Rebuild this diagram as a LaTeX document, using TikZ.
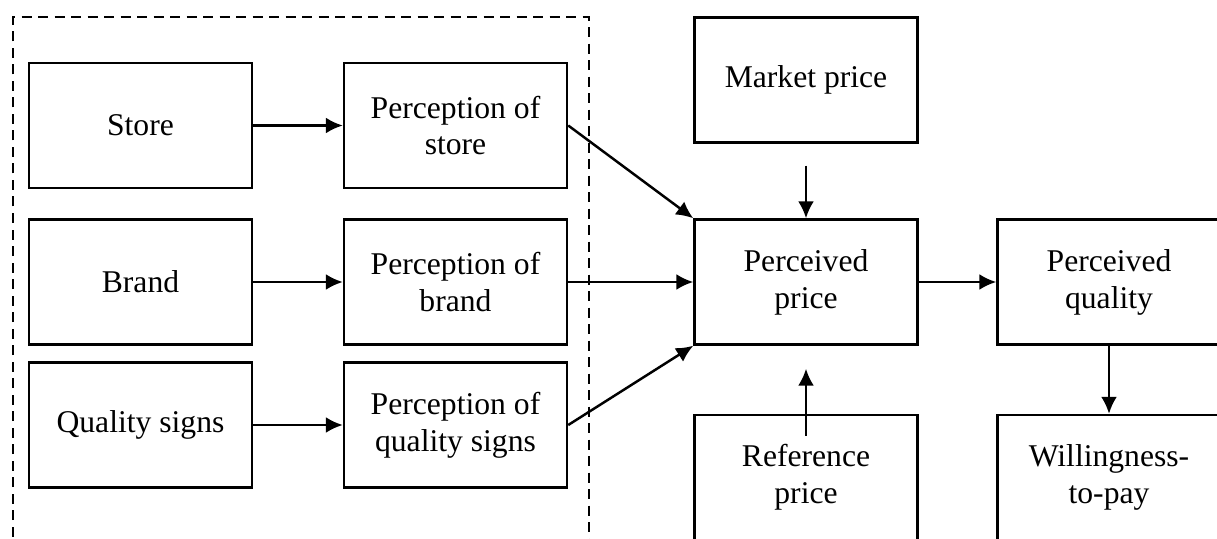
\documentclass[tikz,border=0pt]{standalone}
\usepackage{fontspec}
\setmainfont{Liberation Serif}
\usepackage{tikz}
\usetikzlibrary{positioning, arrows.meta}

\begin{document}
\begin{tikzpicture}[-{Latex[length=3.4mm,width=3.2mm]}, line width=1.4pt,
box/.style={rectangle, draw, -, minimum width=4.46cm, minimum height=2.5cm,
align=center, font=\fontsize{18}{21}\selectfont},
group/.style={draw, -, dash pattern=on 0.2cm off 0.13cm}]
  \useasboundingbox (0,0) rectangle (24.34,10.76);
  % dashed frame round the perception part
  \draw[group] (0.26,-0.3) -- (0.26,10.42) -- (11.78,10.42) -- (11.78,-0.3);
  % 3 sources
  \node[box] (store)   at (2.81,8.25)  {Store};
  \node[box] (brand)   at (2.81,5.12)  {Brand};
  \node[box] (quality) at (2.81,2.26)  {Quality signs};
  % 3 perceptions
  \node[box] (pstore)   at (9.11,8.25) {Perception of\\store};
  \node[box] (pbrand)   at (9.11,5.12) {Perception of\\brand};
  \node[box] (pquality) at (9.11,2.26) {Perception of\\quality signs};
  % price and quality
  \node[box] (market)  at (16.12,9.16) {Market price};
  \node[box] (pprice)  at (16.12,5.12) {Perceived\\price};
  \node[box] (refprice) at (16.12,1.21) {Reference\\price};
  \node[box] (pqual)   at (22.18,5.12) {Perceived\\quality};
  \node[box] (wtp)     at (22.18,1.21) {Willingness-\\to-pay};

\foreach \from/\to in {store/pstore,brand/pbrand,quality/pquality,pbrand/pprice,pprice/pqual}
    \draw (\from) -- (\to);
  \draw (pstore.east) -- (pprice.north west);
  \draw (pquality.east) -- (pprice.south west);
  \draw[shorten <=0.44cm] (market.south) -- (pprice.north);
  \draw[shorten <=-0.44cm, shorten >=0.46cm] (refprice.north) -- (pprice.south);
  \draw (pqual.south) -- (wtp.north);
\end{tikzpicture}
\end{document}
